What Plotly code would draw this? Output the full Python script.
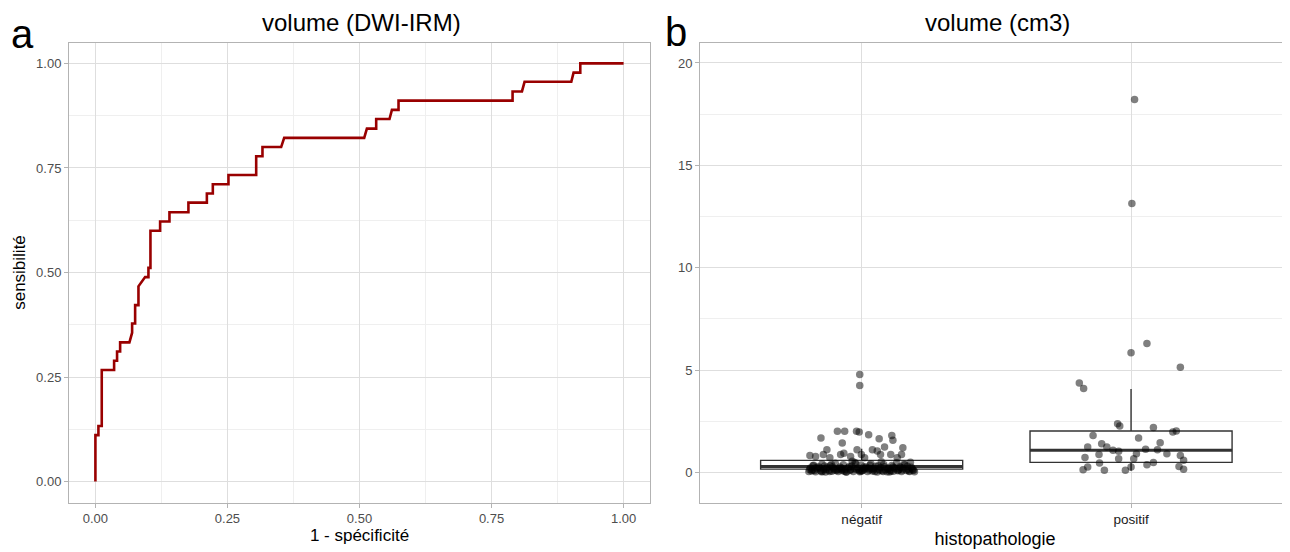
import plotly.graph_objects as go

# The page body has an 8px margin; the figure is sized and positioned to compensate.
OFF = 8
FW, FH = 1290 - OFF, 552 - OFF
FONT = "Liberation Sans, Arial, sans-serif"


def fx(px):
    return (px - OFF) / FW


def fy(py):
    return 1 - (py - OFF) / FH


# ---------------- Panel a: ROC curve ----------------
roc_fpr = [0.0, 0.0, 0.0057, 0.0057, 0.012, 0.012, 0.0354, 0.0354, 0.041, 0.041,
           0.0468, 0.0468, 0.0644, 0.0695, 0.0695, 0.0752, 0.0752, 0.0815, 0.0815,
           0.0941, 0.1004, 0.1004, 0.1042, 0.1042, 0.1225, 0.1225, 0.1402, 0.1402,
           0.1761, 0.1761, 0.211, 0.211, 0.2223, 0.2223, 0.2519, 0.2519, 0.3044,
           0.3044, 0.3163, 0.3163, 0.3517, 0.3574, 0.5089, 0.514, 0.5316, 0.5316,
           0.5568, 0.5614, 0.5739, 0.5739, 0.7898, 0.7898, 0.8076, 0.8125, 0.901,
           0.9053, 0.918, 0.918, 1.0]
roc_tpr = [0.0, 0.111, 0.111, 0.133, 0.133, 0.267, 0.267, 0.289, 0.289, 0.311,
           0.311, 0.333, 0.333, 0.356, 0.378, 0.378, 0.422, 0.422, 0.467,
           0.489, 0.489, 0.511, 0.511, 0.600, 0.600, 0.622, 0.622, 0.644,
           0.644, 0.667, 0.667, 0.689, 0.689, 0.711, 0.711, 0.733, 0.733,
           0.778, 0.778, 0.800, 0.800, 0.822, 0.822, 0.844, 0.844, 0.867,
           0.867, 0.889, 0.889, 0.911, 0.911, 0.933, 0.933, 0.956, 0.956,
           0.978, 0.978, 1.0, 1.0]

# ---------------- Panel b: box plot + jitter ----------------
categories = ["négatif", "positif"]
cat_pos = [1, 2]
box_q1 = [0.16, 0.49]
box_median = [0.29, 1.08]
box_q3 = [0.59, 2.02]
box_low = [0.01, 0.08]
box_high = [1.15, 4.08]

neg_offsets = [
    -0.007, -0.007, -0.09, -0.063, -0.019, -0.009, 0.026, -0.151, 0.065, 0.112,
    0.116, -0.072, 0.085, 0.153, -0.129, -0.017, 0.04, 0.058, -0.192, -0.171,
    -0.142, -0.078, -0.066, -0.041, -0.001, 0.07, 0.108, 0.148, -0.118, 0.011, 0.132,
    -0.196, -0.190, -0.183, -0.178, -0.171, -0.166, -0.160, -0.152, -0.147, -0.141,
    -0.134, -0.128, -0.121, -0.117, -0.110, -0.104, -0.098, -0.091, -0.087, -0.080,
    -0.074, -0.068, -0.061, -0.056, -0.050, -0.043, -0.037, -0.031, -0.025, -0.019,
    -0.013, -0.007, -0.002, 0.004, 0.010, 0.016, 0.022, 0.028, 0.034, 0.040,
    0.046, 0.052, 0.058, 0.064, 0.070, 0.076, 0.082, 0.088, 0.094, 0.100,
    0.106, 0.112, 0.118, 0.124, 0.130, 0.136, 0.142, 0.148, 0.154, 0.160,
    0.166, 0.172, 0.178, 0.184, 0.190, 0.196,
    -0.193, -0.175, -0.156, -0.138, -0.119, -0.101, -0.083, -0.064, -0.046, -0.028,
    -0.010, 0.008, 0.026, 0.044, 0.062, 0.080, 0.098, 0.116, 0.134, 0.152, 0.170, 0.188,
    -0.186, -0.169, -0.149, -0.131, -0.112, -0.094, -0.076, -0.058, -0.040, -0.022,
    -0.004, 0.014, 0.031, 0.049, 0.067, 0.085, 0.103, 0.121, 0.139, 0.157, 0.175, 0.193,
    -0.181, -0.145, -0.108, -0.072, -0.035, 0.001, 0.037, 0.073, 0.109, 0.145, 0.181]
neg_values = [
    4.78, 4.24, 2.01, 2.01, 2.01, 1.97, 1.84, 1.68, 1.65, 1.80,
    1.57, 1.44, 1.24, 1.21, 1.11, 1.11, 1.11, 1.04, 0.83, 0.78,
    0.88, 0.88, 0.94, 0.78, 0.88, 0.88, 0.88, 0.88, 0.72, 0.72, 0.72,
    0.05, 0.22, 0.12, 0.35, 0.03, 0.18, 0.28, 0.08, 0.41, 0.15,
    0.02, 0.25, 0.10, 0.33, 0.06, 0.19, 0.45, 0.13, 0.04, 0.27,
    0.09, 0.38, 0.16, 0.02, 0.23, 0.11, 0.31, 0.05, 0.48, 0.14,
    0.21, 0.03, 0.36, 0.09, 0.17, 0.26, 0.04, 0.12, 0.42, 0.07,
    0.20, 0.30, 0.02, 0.15, 0.24, 0.08, 0.39, 0.13, 0.03, 0.22,
    0.10, 0.34, 0.06, 0.18, 0.47, 0.11, 0.28, 0.04, 0.20, 0.37,
    0.09, 0.15, 0.05, 0.25, 0.12, 0.03,
    0.14, 0.09, 0.21, 0.31, 0.04, 0.12, 0.17, 0.06, 0.29, 0.19,
    0.10, 0.27, 0.20, 0.13, 0.33, 0.05, 0.16, 0.26, 0.08, 0.12, 0.30, 0.18,
    0.07, 0.24, 0.03, 0.16, 0.38, 0.09, 0.21, 0.02, 0.13, 0.44,
    0.06, 0.19, 0.35, 0.04, 0.11, 0.28, 0.02, 0.23, 0.15, 0.40, 0.07, 0.10,
    0.32, 0.05, 0.26, 0.14, 0.55, 0.08, 0.18, 0.52, 0.06, 0.24, 0.50]

pos_offsets = [
    0.013, 0.003, 0.059, 0.0, 0.183, -0.192, -0.176, -0.05, -0.042, 0.083,
    0.155, 0.168, -0.141, 0.028, 0.108, -0.109, -0.161, -0.09, -0.067, -0.046,
    0.054, 0.098, 0.02, 0.133, -0.119, 0.183, -0.171, -0.046, 0.01, 0.195,
    -0.117, 0.083, 0.059, 0.0, -0.161, 0.178, -0.178, -0.099, -0.021, 0.195]
pos_values = [
    18.21, 13.13, 6.30, 5.84, 5.14, 4.37, 4.10, 2.38, 2.27, 2.19,
    1.97, 2.02, 1.80, 1.68, 1.45, 1.40, 1.24, 1.24, 1.08, 1.03,
    1.13, 1.11, 0.91, 0.91, 0.87, 0.83, 0.73, 0.67, 0.67, 0.59,
    0.46, 0.49, 0.38, 0.26, 0.26, 0.29, 0.13, 0.10, 0.10, 0.16]

roc_x_ticks = [0.0, 0.25, 0.5, 0.75, 1.0]
roc_y_ticks = [0.0, 0.25, 0.5, 0.75, 1.0]
vol_y_ticks = [0, 5, 10, 15, 20]

fig = go.Figure()

fig.add_trace(go.Scatter(
    x=roc_fpr, y=roc_tpr, mode="lines",
    line=dict(color="#990000", width=2.6, shape="linear"),
    xaxis="x", yaxis="y", showlegend=False, hoverinfo="skip"))

BOX_W = 0.75
for i, pos in enumerate(cat_pos):
    fig.add_trace(go.Box(
        x=[pos], q1=[box_q1[i]], median=[box_median[i]], q3=[box_q3[i]],
        lowerfence=[box_low[i]], upperfence=[box_high[i]],
        width=BOX_W, whiskerwidth=0, boxpoints=False,
        fillcolor="white", line=dict(color="#333333", width=1.4),
        xaxis="x2", yaxis="y2", showlegend=False, hoverinfo="skip"))
    fig.add_trace(go.Scatter(
        x=[pos - BOX_W / 2, pos + BOX_W / 2], y=[box_median[i], box_median[i]],
        mode="lines", line=dict(color="#333333", width=3),
        xaxis="x2", yaxis="y2", showlegend=False, hoverinfo="skip"))

fig.add_trace(go.Scatter(
    x=[cat_pos[0] + o for o in neg_offsets], y=neg_values, mode="markers",
    marker=dict(color="rgba(0,0,0,0.5)", size=7.5, line=dict(width=0)),
    xaxis="x2", yaxis="y2", showlegend=False, hoverinfo="skip"))
fig.add_trace(go.Scatter(
    x=[cat_pos[1] + o for o in pos_offsets], y=pos_values, mode="markers",
    marker=dict(color="rgba(0,0,0,0.5)", size=7.5, line=dict(width=0)),
    xaxis="x2", yaxis="y2", showlegend=False, hoverinfo="skip"))

TOP, BOT = 42.5, 502.5
ydom = [fy(BOT), fy(TOP)]
BORDER = "#b3b3b3"
GRID = "#dedede"
MINOR = "#efefef"
TICKFONT = dict(family=FONT, size=13, color="#4d4d4d")

common = dict(showline=True, linecolor=BORDER, linewidth=1, ticks="outside",
              ticklen=4, tickcolor=BORDER, zeroline=False, showgrid=True,
              gridcolor=GRID, gridwidth=1, tickfont=TICKFONT)

fig.update_layout(
    width=FW, height=FH, margin=dict(l=0, r=0, t=0, b=0),
    paper_bgcolor="white", plot_bgcolor="white",
    font=dict(family=FONT),
    xaxis=dict(domain=[fx(69), fx(650)], range=[-0.05, 1.05], anchor="y",
               tickvals=roc_x_ticks, tickformat=".2f", mirror=True,
               minor=dict(dtick=0.125, tick0=0, showgrid=True, gridcolor=MINOR, gridwidth=1, ticks=""),
               title=dict(text="1 - spécificité", font=dict(family=FONT, size=17, color="#000"), standoff=3),
               **common),
    yaxis=dict(domain=ydom, range=[-0.05, 1.05], anchor="x",
               tickvals=roc_y_ticks, tickformat=".2f", mirror=True,
               minor=dict(dtick=0.125, tick0=0, showgrid=True, gridcolor=MINOR, gridwidth=1, ticks=""),
               title=dict(text="sensibilité", font=dict(family=FONT, size=17, color="#000"), standoff=6),
               **common),
    xaxis2=dict(domain=[fx(700), 1.0], range=[0.4, 2.59], anchor="y2",
                tickvals=cat_pos, ticktext=categories, mirror=True,
                title=dict(text="histopathologie", font=dict(family=FONT, size=18, color="#000"), standoff=6),
                **{**common, "tickfont": dict(family=FONT, size=13.5, color="#1a1a1a")}),
    yaxis2=dict(domain=ydom, range=[-1.47, 21.0], anchor="x2",
                tickvals=vol_y_ticks,
                minor=dict(dtick=2.5, tick0=0, showgrid=True, gridcolor=MINOR, gridwidth=1, ticks=""),
                **common),
    annotations=[
        dict(text="volume (DWI-IRM)", x=fx(361), y=fy(22), xref="paper", yref="paper",
             xanchor="center", yanchor="middle", showarrow=False,
             font=dict(family=FONT, size=24, color="#000")),
        dict(text="volume (cm3)", x=fx(997), y=fy(22), xref="paper", yref="paper",
             xanchor="center", yanchor="middle", showarrow=False,
             font=dict(family=FONT, size=24, color="#000")),
        dict(text="a", x=fx(22), y=fy(34), xref="paper", yref="paper",
             xanchor="center", yanchor="middle", showarrow=False,
             font=dict(family=FONT, size=40, color="#000")),
        dict(text="b", x=fx(676), y=fy(32), xref="paper", yref="paper",
             xanchor="center", yanchor="middle", showarrow=False,
             font=dict(family=FONT, size=40, color="#000")),
    ],
)

fig.write_html("out.html")
